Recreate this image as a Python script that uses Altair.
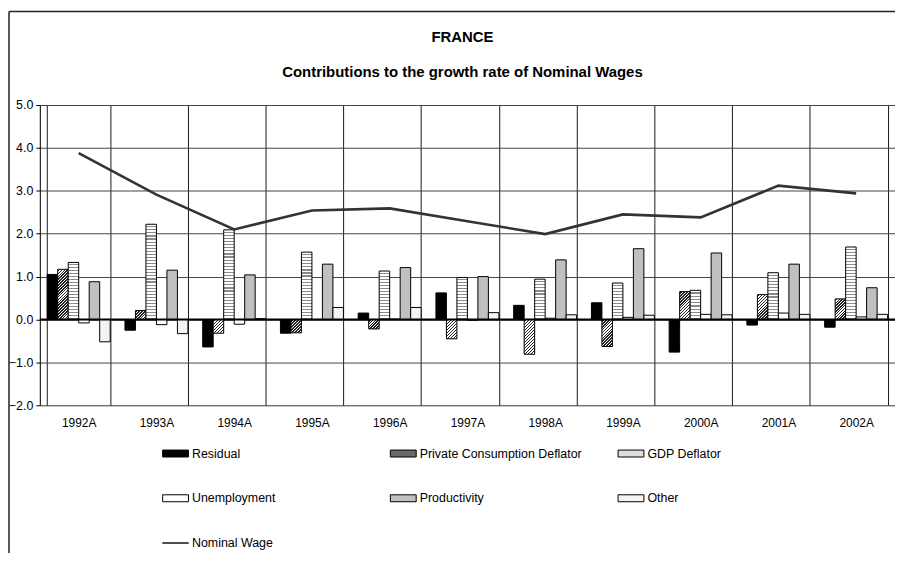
import math
import altair as alt
import pandas as pd

# ---------------- data ----------------
years = ["1992A", "1993A", "1994A", "1995A", "1996A", "1997A",
         "1998A", "1999A", "2000A", "2001A", "2002A"]
series_names = ["Residual", "Private Consumption Deflator", "GDP Deflator",
                "Unemployment", "Productivity", "Other"]
residual = [1.05, -0.25, -0.64, -0.32, 0.15, 0.62, 0.33, 0.39, -0.76, -0.13, -0.18]
private_consumption_deflator = [1.17, 0.21, -0.32, -0.31, -0.22, -0.45, -0.81, -0.63, 0.65, 0.58, 0.48]
gdp_deflator = [1.33, 2.22, 2.09, 1.57, 1.13, 0.98, 0.94, 0.85, 0.68, 1.09, 1.69]
unemployment = [-0.08, -0.12, -0.11, 0.00, 0.01, -0.02, 0.03, 0.05, 0.12, 0.15, 0.06]
productivity = [0.88, 1.15, 1.04, 1.29, 1.21, 1.00, 1.39, 1.65, 1.55, 1.29, 0.74]
other = [-0.52, -0.33, 0.02, 0.28, 0.28, 0.16, 0.11, 0.10, 0.11, 0.12, 0.12]
nominal_wage = [3.88, 2.91, 2.10, 2.54, 2.59, 2.29, 1.99, 2.45, 2.38, 3.12, 2.94]
y_ticks = [-2, -1, 0, 1, 2, 3, 4, 5]

series_values = [residual, private_consumption_deflator, gdp_deflator,
                 unemployment, productivity, other]
rows = []
for name, vals in zip(series_names, series_values):
    for yr, v in zip(years, vals):
        rows.append({"year": yr, "series": name, "value": v})
bars_df = pd.DataFrame(rows)
line_df = pd.DataFrame({"year": years, "series": ["Nominal Wage"] * len(years),
                        "value": nominal_wage})
all_df = pd.concat([bars_df, line_df], ignore_index=True)

legend_order = series_names + ["Nominal Wage"]
palette = ["#000000", "#6a6a6a", "#dedede", "#ffffff", "#c0c0c0", "#f4f4f4", "#333333"]
outline = ["#000000"] * len(series_names) + ["#333333"]

# ---------------- layout ----------------
W, H = 860, 302
PAD_L, PAD_T, PAD_B = 32, 96, 147
PX_PER_UNIT = H / 7.0
PAD_INNER = 0.19
BAR_W = (W / len(years)) * (1 - PAD_INNER) / len(series_names)
FONT = "Liberation Sans"


def striped(n, c_light, c_dark, frac, x2, y2):
    stops = []
    for i in range(n):
        a = i / n
        b = min(1.0, (i + frac) / n)
        c = min(1.0, (i + 1) / n)
        stops += [{"offset": round(a, 4), "color": c_light},
                  {"offset": round(b, 4), "color": c_light},
                  {"offset": round(b, 4), "color": c_dark},
                  {"offset": round(c, 4), "color": c_dark}]
    return {"gradient": "linear", "x1": 0, "y1": 0, "x2": x2, "y2": y2, "stops": stops}


def horiz_stripes(h):
    n = max(2, int(round(h / 3.1)))
    return striped(n, "#ffffff", "#8a8a8a", 0.62, 0, 1)


def diag_hatch(w, h):
    s = (w + h) / (w * w + h * h)
    n = max(2, int(round((w + h) / math.sqrt(2) / 2.1)))
    return striped(n, "#ffffff", "#222222", 0.45, round(w * s, 5), round(h * s, 5))


conditions = []
for yr, v in zip(years, gdp_deflator):
    conditions.append({"test": f"datum.series === 'GDP Deflator' && datum.year === '{yr}'",
                       "value": horiz_stripes(abs(v) * PX_PER_UNIT)})
for yr, v in zip(years, private_consumption_deflator):
    conditions.append({"test": f"datum.series === 'Private Consumption Deflator' && datum.year === '{yr}'",
                       "value": diag_hatch(BAR_W, abs(v) * PX_PER_UNIT)})

SW_W, SW_H = 26, 7
SWATCH = "M-1,-{0}H1V{0}H-1Z".format(round(SW_H / SW_W, 3))
THIN = "M-1,-0.02H1V0.02H-1Z"
shapes = [SWATCH] * len(series_names) + [THIN]

legend = alt.Legend(
    title=None, orient="none", legendX=123, legendY=337, columns=3,
    direction="horizontal",
    gridAlign="all", columnPadding=33, rowPadding=25, padding=0,
    symbolSize=SW_W * SW_W, symbolStrokeWidth=1,
    symbolOpacity=1, labelLimit=400,
    labelFont=FONT, labelFontSize=12.5, labelColor="black", labelOffset=3,
)

x_enc = alt.X("year:N", sort=years, title=None,
              scale=alt.Scale(paddingInner=PAD_INNER, paddingOuter=PAD_INNER / 2),
              axis=alt.Axis(labelAngle=0, ticks=False, domain=False, grid=True,
                            tickBand="extent", gridColor="#1a1a1a", gridWidth=1,
                            labelFont=FONT, labelFontSize=12, labelColor="black",
                            labelPadding=12))
y_enc = alt.Y("value:Q", title=None,
              scale=alt.Scale(domain=[-2, 5], nice=False, zero=False),
              axis=alt.Axis(values=y_ticks, format=".1f", grid=True, gridColor="#444444",
                            gridWidth=1, domainColor="#000000", tickColor="#000000",
                            tickSize=4, labelFont=FONT, labelFontSize=12.5,
                            labelColor="black", labelPadding=3))

color_scale = alt.Scale(domain=legend_order, range=palette)

bars = alt.Chart(bars_df).mark_bar(stroke="black", strokeWidth=1, opacity=1).encode(
    x=x_enc,
    xOffset=alt.XOffset("series:N", sort=series_names,
                        scale=alt.Scale(domain=series_names, paddingInner=0, paddingOuter=0)),
    y=y_enc,
    color=alt.Color("series:N", scale=color_scale, legend=None, condition=conditions),
)

zero = alt.Chart(pd.DataFrame({"z": [0]})).mark_rule(color="black", strokeWidth=1.8).encode(
    y="z:Q")

line = alt.Chart(line_df).mark_line(strokeWidth=2.6).encode(
    x=alt.X("year:N", sort=years),
    y="value:Q",
    color=alt.Color("series:N", scale=color_scale, legend=None),
)

# invisible points that carry the legend (fill colour + outline + swatch shape)
legend_layer = alt.Chart(all_df).mark_point(filled=True, opacity=0).encode(
    x=alt.X("year:N", sort=years),
    y="value:Q",
    fill=alt.Fill("series:N", scale=alt.Scale(domain=legend_order, range=palette),
                  legend=legend),
    stroke=alt.Stroke("series:N", scale=alt.Scale(domain=legend_order, range=outline),
                      legend=legend),
    shape=alt.Shape("series:N", scale=alt.Scale(domain=legend_order, range=shapes),
                    legend=legend),
)

title1 = alt.Chart(pd.DataFrame({"t": ["FRANCE"]})).mark_text(
    font=FONT, fontSize=15, fontWeight="bold", color="black", baseline="middle",
    align="center").encode(text="t:N", x=alt.value(425), y=alt.value(-68))
title2 = alt.Chart(pd.DataFrame({"t": ["Contributions to the growth rate of Nominal Wages"]})).mark_text(
    font=FONT, fontSize=15, fontWeight="bold", color="black", baseline="middle",
    align="center").encode(text="t:N", x=alt.value(425), y=alt.value(-33))

frame_left = alt.Chart(pd.DataFrame({"f": [0]})).mark_rule(color="#222222", strokeWidth=1.5).encode(
    x=alt.value(-31), y=alt.value(-94), y2=alt.value(H + PAD_B + 10))
frame_top = alt.Chart(pd.DataFrame({"f": [0]})).mark_rule(color="#222222", strokeWidth=1.5).encode(
    x=alt.value(-31), x2=alt.value(W + 20), y=alt.value(-94))

chart = alt.layer(bars, zero, line, legend_layer, title1, title2, frame_left, frame_top).resolve_scale(
    color="independent", fill="independent", stroke="independent", shape="independent"
).properties(
    width=W, height=H,
    autosize=alt.AutoSizeParams(type="none"),
    padding={"left": PAD_L, "top": PAD_T, "right": 0, "bottom": PAD_B},
).configure_view(stroke=None).configure(font=FONT, background="white")

chart.save("out.html", embed_options={"renderer": "svg", "actions": False})
